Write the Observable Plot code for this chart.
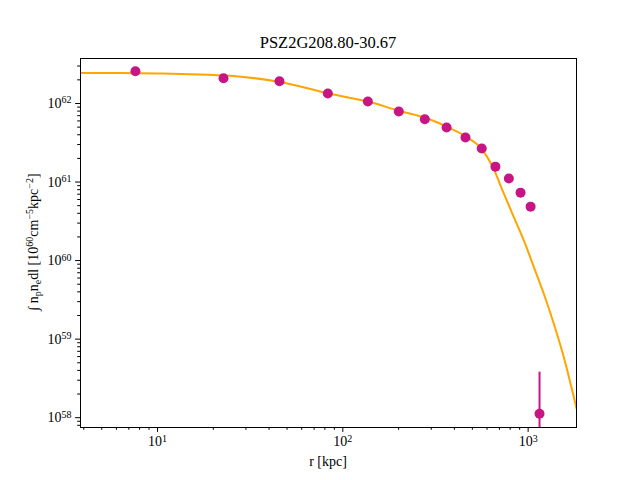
<!DOCTYPE html>
<html>
<head>
<meta charset="utf-8">
<script src="https://cdn.jsdelivr.net/npm/d3@7"></script>
<script src="https://cdn.jsdelivr.net/npm/@observablehq/plot@0.6"></script>
<style>
  body { margin: 0; background: #fff; }
  svg { display: block; }
</style>
</head>
<body>
<div id="chart"></div>
<script>
// Cluster name shown as the title
const clusterName = "PSZ2G208.80-30.67";

// Measured emission-measure profile (radius in kpc)
const radiusKpc = [7.6, 22.7, 45.5, 83.0, 136.5, 200.5, 277, 363, 459, 562, 666, 787, 910, 1031, 1152];
const emission  = [2.58e62, 2.10e62, 1.92e62, 1.34e62, 1.06e62, 7.91e61, 6.31e61, 4.94e61,
                   3.69e61, 2.67e61, 1.57e61, 1.11e61, 7.33e60, 4.86e60, 1.12e58];
const emissionLow  = [2.55e62, 2.08e62, 1.90e62, 1.33e62, 1.05e62, 7.8e61, 6.2e61, 4.85e61,
                      3.62e61, 2.6e61, 1.52e61, 1.07e61, 7.0e60, 4.6e60, 1e57];
const emissionHigh = [2.61e62, 2.12e62, 1.94e62, 1.35e62, 1.07e62, 8.0e61, 6.4e61, 5.03e61,
                      3.76e61, 2.74e61, 1.62e61, 1.15e61, 7.6e60, 5.1e60, 3.8e58];

// Best-fit model curve
const modelRadiusKpc = [3.84, 6.3, 10, 15, 24.8, 45.7, 83.8, 136.5, 204.6, 276, 366, 461, 562,
                        640, 739.5, 837, 948, 1074, 1215, 1376, 1558, 1824];
const modelEmission  = [2.45e62, 2.44e62, 2.41e62, 2.36e62, 2.25e62, 1.88e62, 1.34e62, 1.06e62,
                        7.98e61, 6.63e61, 5.03e61, 3.80e61, 2.62e61, 1.61e61, 7.12e60, 3.58e60,
                        1.807e60, 8.26e59, 3.78e59, 1.57e59, 5.88e58, 1.32e58];

// Axis ticks
const xMajor = [10, 100, 1000];
const xMinor = [4, 5, 6, 7, 8, 9, 20, 30, 40, 50, 60, 70, 80, 90,
                200, 300, 400, 500, 600, 700, 800, 900];
const yMajor = [1e58, 1e59, 1e60, 1e61, 1e62];
const yMinor = [];
for (let e = 57; e <= 62; e++) for (let m = 2; m <= 9; m++) yMinor.push(m * Math.pow(10, e));

const points = radiusKpc.map((r, i) => ({r, v: emission[i], lo: emissionLow[i], hi: emissionHigh[i]}));
const model = modelRadiusKpc.map((r, i) => ({r, v: modelEmission[i]}));

const serif = "'Liberation Serif', 'DejaVu Serif', serif";
const expFormat = d => "10^" + Math.round(Math.log10(d));

const chart = Plot.plot({
  width: 640,
  height: 480,
  marginLeft: 80,
  marginRight: 64,
  marginTop: 58,
  marginBottom: 53,
  style: {fontFamily: serif, fontSize: "14px", color: "black", background: "white"},
  x: {type: "log", domain: [3.84, 1824]},
  y: {type: "log", domain: [7.5e57, 3.74e62]},
  marks: [
    Plot.axisX({ticks: xMinor, tickSize: 2.8, tickFormat: () => "", label: null}),
    Plot.axisX({ticks: xMajor, tickSize: 4.9, tickPadding: 4, tickFormat: expFormat, label: null}),
    Plot.axisY({ticks: yMinor.filter(v => v > 7.5e57 && v < 3.74e62), tickSize: 2.8, tickFormat: () => "", label: null}),
    Plot.axisY({ticks: yMajor, tickSize: 4.9, tickPadding: 4, tickFormat: expFormat, label: null}),
    Plot.line(model, {x: "r", y: "v", stroke: "orange", strokeWidth: 2, curve: "monotone-x", clip: true}),
    Plot.ruleX(points, {x: "r", y1: "lo", y2: "hi", stroke: "mediumvioletred", strokeWidth: 2, clip: true}),
    Plot.dot(points, {x: "r", y: "v", r: 5, fill: "mediumvioletred", stroke: "none"}),
    Plot.frame({stroke: "black", strokeWidth: 1})
  ]
});

document.getElementById("chart").appendChild(chart);

const svg = d3.select(chart);

// Turn "10^n" tick labels into base plus raised exponent
svg.selectAll("text").each(function () {
  const t = d3.select(this);
  const s = t.text();
  const m = /^10\^(-?\d+)$/.exec(s);
  if (!m) return;
  t.text(null);
  t.append("tspan").text("10");
  t.append("tspan").attr("dy", "-0.45em").attr("font-size", "10px").text(m[1]);
});

// Title
svg.append("text")
  .attr("x", 328).attr("y", 48)
  .attr("text-anchor", "middle")
  .attr("font-family", serif).attr("font-size", "16.5px")
  .text(clusterName);

// X label
svg.append("text")
  .attr("x", 328).attr("y", 466)
  .attr("text-anchor", "middle")
  .attr("font-family", serif).attr("font-size", "14px")
  .text("r [kpc]");

// Y label with sub/superscripts
const yl = svg.append("text")
  .attr("transform", "translate(38,242) rotate(-90)")
  .attr("text-anchor", "middle")
  .attr("font-family", serif).attr("font-size", "14px");
const parts = [
  ["∫ n", 0], ["p", 1], ["n", 0], ["e", 1], ["dl [10", 0], ["60", -1],
  ["cm", 0], ["−5", -1], ["kpc", 0], ["−2", -1], ["]", 0]
];
let shift = 0;
for (const [txt, kind] of parts) {
  const target = kind === 1 ? 3 : kind === -1 ? -5 : 0;
  const ts = yl.append("tspan").attr("dy", target - shift).text(txt);
  if (kind !== 0) ts.attr("font-size", "10px");
  shift = target;
}
</script>
</body>
</html>
